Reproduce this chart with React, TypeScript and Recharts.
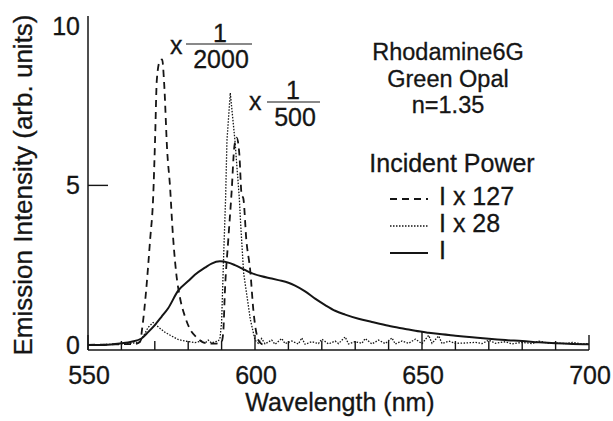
import { LineChart, Line, XAxis, YAxis } from "recharts";

// ---------------------------------------------------------------------------
// Data
// ---------------------------------------------------------------------------

const solidWavelengths = [
	550, 555, 560, 563, 566, 568, 570, 572, 574, 577, 580, 582, 585, 587, 589.5, 592, 594, 597, 599,
	602, 605, 607, 610, 612, 615, 618, 621, 624, 627, 631, 635, 640, 645, 648, 652, 656, 660, 665,
	670, 675, 680, 685, 690, 695, 700,
];
const solidValues = [
	0.0, 0.0, 0.05, 0.1, 0.2, 0.4, 0.62, 0.88, 1.15, 1.7, 2.0, 2.2, 2.42, 2.55, 2.62, 2.58, 2.5, 2.35,
	2.25, 2.15, 2.08, 2.03, 1.95, 1.86, 1.68, 1.45, 1.25, 1.07, 0.95, 0.82, 0.72, 0.6, 0.5, 0.44, 0.38,
	0.33, 0.29, 0.24, 0.19, 0.15, 0.12, 0.08, 0.05, 0.03, 0.02,
];

const dashedWavelengths = [
	550, 560, 564, 565.6, 566.2, 567.4, 568.6, 569.5, 570.1, 570.6, 571.5, 572.2, 572.8, 573.7, 574.6,
	575.2, 576.4, 577.5, 579, 580.5, 582.4, 585, 588, 590, 590.5, 591, 592, 593, 593.8, 594.5, 595.3,
	596, 596.5, 597.4, 598.6, 599.5, 601, 602, 603,
];
const dashedValues = [
	0, 0.02, 0.03, 0.1, 0.5, 1.7, 3.3, 4.6, 6.5, 8.3, 8.9, 8.95, 8.2, 6.1, 4.9, 3.8, 2.26, 1.5, 0.9, 0.5,
	0.25, 0.06, 0.04, 0.1, 0.4, 1.7, 3.3, 4.8, 6.2, 6.5, 6.0, 4.7, 4.6, 3.3, 2.3, 1.1, 0.15, 0.03, 0,
];

const dottedWavelengths = [
	550, 558, 563, 565.6, 567, 568, 569.5, 570.4, 572, 573, 575, 577, 579, 582, 584, 585, 586, 587, 588,
	589, 589.5, 590, 590.6, 591.2, 591.6, 592.6, 594, 595.3, 595.7, 596.6, 598.6, 600, 601, 602, 603,
	605, 606, 608, 609, 611, 613, 614, 615, 617, 619, 620, 622, 624, 625, 627, 628, 630, 632, 633, 635,
	637, 639, 641, 642, 644, 646, 648, 650, 652, 653, 655, 656, 658, 660, 663, 666, 668, 670, 672, 675,
	677, 680, 683, 685, 688, 690, 693, 695, 698, 700,
];
const dottedValues = [
	0, 0.02, 0.05, 0.1, 0.35, 0.55, 0.7, 0.62, 0.48, 0.4, 0.28, 0.17, 0.12, 0.07, 0.12, 0.05, 0.15, 0.06,
	0.1, 0.12, 0.2, 0.7, 2.75, 4.6, 6.4, 7.9, 6.4, 4.6, 3.8, 2.25, 0.8, 0.15, 0.05, 0.2, 0.03, 0.15,
	0.02, 0.2, 0.04, 0.12, 0.03, 0.22, 0.02, 0.1, 0.04, 0.18, 0.03, 0.12, 0.04, 0.25, 0.03, 0.1, 0.05,
	0.2, 0.03, 0.15, 0.04, 0.22, 0.03, 0.12, 0.05, 0.18, 0.04, 0.3, 0.05, 0.28, 0.04, 0.12, 0.05, 0.06,
	0.08, 0.04, 0.15, 0.05, 0.1, 0.03, 0.08, 0.04, 0.12, 0.05, 0.06, 0.04, 0.08, 0.03, 0.04,
];

const xTicks = [550, 560, 570, 580, 590, 600, 610, 620, 630, 640, 650, 660, 670, 680, 690, 700];
const yTicks = [0, 5, 10];

const sampleLines = ["Rhodamine6G", "Green Opal", "n=1.35"];

const toPoints = (xs: number[], ys: number[]) => xs.map((wl, i) => ({ wl, v: ys[i] }));

// legend / series config (drawn in this order)
const SERIES = [
	{ key: "dashed", label: "I x 127", data: toPoints(dashedWavelengths, dashedValues), dash: "7 5", width: 1.8, type: "monotone" },
	{ key: "dotted", label: "I x 28", data: toPoints(dottedWavelengths, dottedValues), dash: "1.5 1.5", width: 1.3, type: "linear" },
	{ key: "solid", label: "I", data: toPoints(solidWavelengths, solidValues), dash: undefined, width: 2, type: "monotone" },
] as const;

const FONT = '"Liberation Sans", Arial, Helvetica, sans-serif';
const INK = "#151515";

// ---------------------------------------------------------------------------
// Ticks (drawn inward, like the original figure)
// ---------------------------------------------------------------------------

function XTick(props: any) {
	const { x, y, payload } = props;
	const v = payload.value as number;
	const major = v % 50 === 0;
	const len = v === 650 ? 18 : major ? 15 : 9;
	return (
		<g>
			<line x1={x} y1={y} x2={x} y2={y - len} stroke={INK} strokeWidth={1.4} />
			{major && (
				<text x={x + 1} y={y + 25} textAnchor="middle" dominantBaseline="central" fontSize={25} fontFamily={FONT} fill={INK} stroke={INK} strokeWidth={0.3}>
					{v}
				</text>
			)}
		</g>
	);
}

function YTick(props: any) {
	const { x, y, payload } = props;
	const v = payload.value as number;
	return (
		<g>
			{v === 5 && <line x1={x} y1={y} x2={x + 20} y2={y} stroke={INK} strokeWidth={1.4} />}
			<text x={x - 8} y={y} textAnchor="end" dominantBaseline="central" fontSize={25} fontFamily={FONT} fill={INK} stroke={INK} strokeWidth={0.3}>
				{v}
			</text>
		</g>
	);
}

// ---------------------------------------------------------------------------
// Component
// ---------------------------------------------------------------------------

export default function App() {
	const txt = { fontFamily: FONT, fill: INK, fontSize: 25, stroke: INK, strokeWidth: 0.3 } as const;
	return (
		<div style={{ position: "absolute", left: 0, top: 0, width: 613, height: 421, background: "#fff" }}>
			<LineChart width={613} height={421} margin={{ top: 16, right: 24, left: 0, bottom: 0 }}>
				<XAxis
					dataKey="wl"
					type="number"
					domain={[550, 700]}
					ticks={xTicks}
					allowDataOverflow
					height={71}
					tickSize={0}
					tickMargin={0}
					tickLine={false}
					tick={<XTick />}
					axisLine={{ stroke: INK, strokeWidth: 1.5 }}
				/>
				<XAxis
					xAxisId="top"
					orientation="top"
					type="number"
					domain={[550, 700]}
					height={0}
					tick={false}
					tickLine={false}
					axisLine={{ stroke: INK, strokeWidth: 1.5 }}
				/>
				<YAxis
					type="number"
					domain={[-0.16, 10.31]}
					ticks={yTicks}
					allowDataOverflow
					width={88}
					tickSize={0}
					tickMargin={0}
					tickLine={false}
					tick={<YTick />}
					axisLine={{ stroke: INK, strokeWidth: 1.5 }}
				/>
				<YAxis
					yAxisId="right"
					orientation="right"
					type="number"
					domain={[0, 10]}
					width={0}
					tick={false}
					tickLine={false}
					axisLine={{ stroke: INK, strokeWidth: 1.5 }}
				/>
				{SERIES.map((s) => (
					<Line
						key={s.key}
						data={s.data as any}
						dataKey="v"
						name={s.label}
						type={s.type}
						stroke={INK}
						strokeWidth={s.width}
						strokeDasharray={s.dash}
						dot={false}
						activeDot={false}
						isAnimationActive={false}
					/>
				))}
			</LineChart>

			{/* annotations, legend and axis titles */}
			<svg width={613} height={421} style={{ position: "absolute", left: 0, top: 0, pointerEvents: "none" }}>
				{/* x 1/2000 */}
				<text x={170} y={54} {...txt}>x</text>
				<line x1={186} y1={44} x2={252} y2={44} stroke={INK} strokeWidth={1.2} />
				<text x={220} y={42} textAnchor="middle" {...txt}>1</text>
				<text x={221} y={68} textAnchor="middle" {...txt}>2000</text>

				{/* x 1/500 */}
				<text x={249} y={110} {...txt}>x</text>
				<line x1={267} y1={102} x2={320} y2={102} stroke={INK} strokeWidth={1.2} />
				<text x={293} y={99} textAnchor="middle" {...txt}>1</text>
				<text x={295} y={126} textAnchor="middle" {...txt}>500</text>

				{/* sample info */}
				{sampleLines.map((line, i) => (
					<text key={line} x={448} y={60 + i * 26.5} textAnchor="middle" {...txt} fontSize={23.5}>
						{line}
					</text>
				))}
				<text x={452} y={172} textAnchor="middle" {...txt}>Incident Power</text>

				{/* legend */}
				{SERIES.map((s, i) => {
					const base = 205 + i * 27;
					return (
						<g key={s.key}>
							<line
								x1={390}
								y1={base - 6}
								x2={428}
								y2={base - 6}
								stroke={INK}
								strokeWidth={s.width}
								strokeDasharray={s.dash}
							/>
							<text x={439} y={base} {...txt}>{s.label}</text>
						</g>
					);
				})}

				{/* axis titles */}
				<text x={340} y={411} textAnchor="middle" {...txt}>Wavelength (nm)</text>
				<text
					x={23}
					y={185}
					textAnchor="middle"
					dominantBaseline="central"
					transform="rotate(-90 23 185)"
					{...txt}
					fontSize={26}
				>
					Emission Intensity (arb. units)
				</text>
			</svg>
		</div>
	);
}
